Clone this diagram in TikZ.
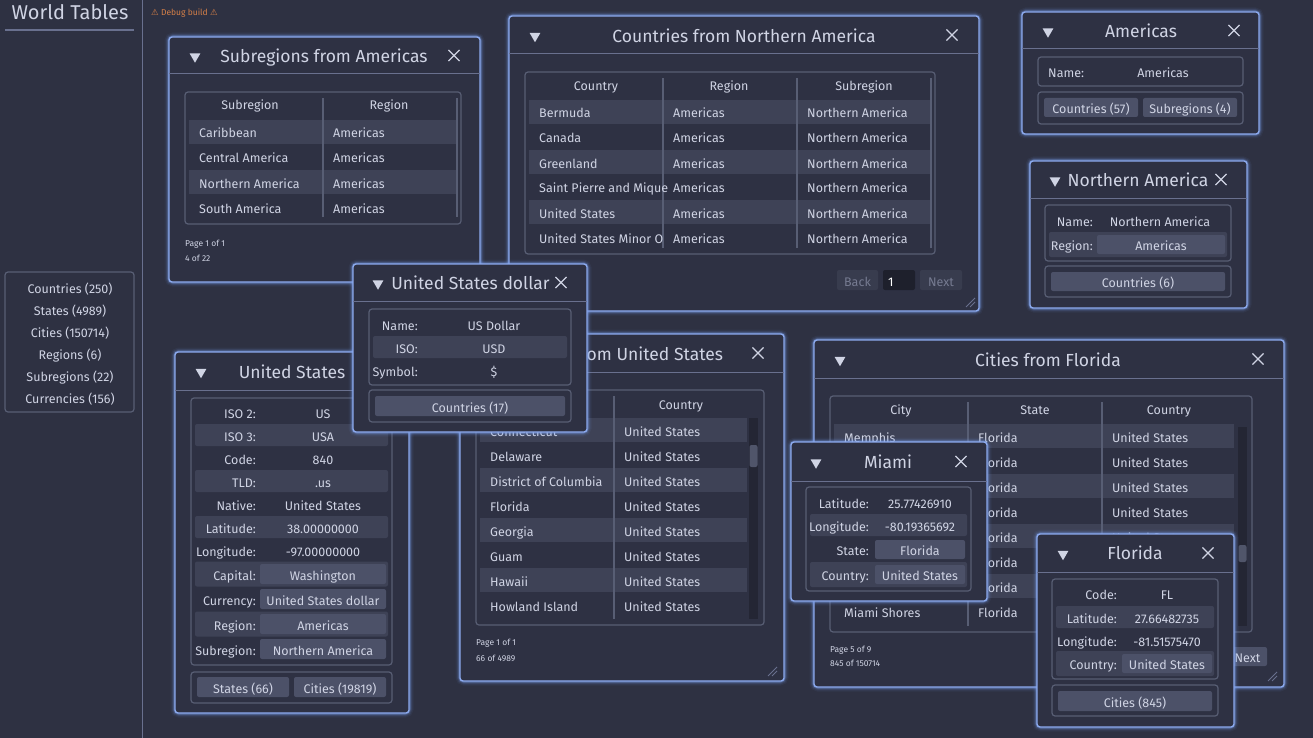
\documentclass[tikz,border=0pt]{standalone}
\usepackage{fontspec}
\setmainfont{Fira Sans}
\newfontfamily\symfont{DejaVu Sans}
\usetikzlibrary{shapes.geometric,shapes.misc}
\definecolor{bg}{RGB}{46,49,66}
\definecolor{winbg}{RGB}{46,49,67}
\definecolor{bordc}{RGB}{140,170,238}
\definecolor{glowc}{RGB}{120,160,240}
\definecolor{sepc}{RGB}{105,112,142}
\definecolor{framec}{RGB}{88,94,116}
\definecolor{rowc}{RGB}{62,66,86}
\definecolor{btnc}{RGB}{76,81,104}
\definecolor{txt}{RGB}{208,212,228}
\definecolor{dimtxt}{RGB}{118,123,145}
\definecolor{disbtn}{RGB}{56,60,78}
\definecolor{inputc}{RGB}{30,32,44}
\definecolor{trackc}{RGB}{36,38,52}
\definecolor{thumbc}{RGB}{80,85,106}
\definecolor{dbgc}{RGB}{214,128,72}
\newcommand\myfs[1]{\fontsize{#1}{#1}\selectfont}
\tikzset{
  t/.style={text=txt, font=\myfs{12.5}, inner sep=0pt, text height=12pt, text depth=0pt},
  tl/.style={t, anchor=west},
  tr/.style={t, anchor=east},
  ttl/.style={text=txt, font=\myfs{17.5}, inner sep=0pt, text height=14.5pt, text depth=0pt},
  small/.style={text=txt, font=\myfs{8.5}, inner sep=0pt, anchor=west, text height=8pt, text depth=0pt},
  frame/.style={draw=framec, line width=1.2pt, rounded corners=3pt},
  colc/.style={draw=framec, line width=1.2pt},
  tri/.style={regular polygon, regular polygon sides=3, shape border rotate=180, fill=txt, inner sep=0pt, minimum size=12.5pt},
  xmark/.style={cross out, draw=txt, line width=1.1pt, minimum size=10pt, inner sep=0pt},
  gripc/.style={draw=sepc, line width=0.8pt},
}
\newcommand\wndw[8]{%
  \foreach \w/\o in {9/0.06,6.5/0.10,4.5/0.18,3/0.3}{\draw[glowc, line width=\w pt, opacity=\o, rounded corners=4pt] (#2,#3) rectangle (#4,#5);}
  \filldraw[fill=winbg, draw=bordc, line width=1.4pt, rounded corners=3pt] (#2,#3) rectangle (#4,#5);
  \draw[sepc, line width=1pt] (#2,#6) -- (#4,#6);
  \node[tri] (#1tri) at (#7,{(#3+#6)/2+1}) {};
  \node[xmark] (#1x) at (#8,{(#3+#6)/2}) {};
}
\newcommand\btn[6]{\fill[btnc, rounded corners=2pt] (#2,#3) rectangle (#4,#5); \node[t] (#1) at ({(#2+#4)/2},{(#3+#5)/2}) {#6};}
\newcommand\grip[3]{\coordinate (#1) at (#2,#3); \draw[gripc] (#1) ++(-9,0) -- ++(9,-9); \draw[gripc] (#1) ++(-5,0) -- ++(5,-5);}
\begin{document}
\begin{tikzpicture}[x=1pt,y=-1pt]
\path[use as bounding box, fill=bg] (0,0) rectangle (1313,738);
% ---------- sidebar
\node[text=txt, font=\myfs{20}, inner sep=0pt] (wt) at (70,12) {World Tables};
\draw[sepc, line width=1.5pt] (5,30) -- (134,30);
\draw[sepc, line width=1pt] (142,0) -- (142,738);
\draw[frame] (5,272) rectangle (134,412);
\foreach \s [count=\i] in {Countries (250),States (4989),Cities (150714),Regions (6),Subregions (22),Currencies (156)}
  {\node[t] (side\i) at (70,{265+22*\i}) {\s};}
\node[text=dbgc, font=\myfs{8.5}, inner sep=0pt, anchor=west] (dbg) at (151,13) {{\symfont ⚠} Debug build {\symfont ⚠}};
% ---------- Subregions from Americas
\wndw{a}{169}{37}{480}{282}{74}{195}{454}
\node[ttl] (at) at (324,55.5) {Subregions from Americas};
\fill[rowc] (189,120) rectangle (456,144);
\fill[rowc] (189,170) rectangle (456,194);
\draw[frame] (185,92) rectangle (461,224);
\draw[colc] (323,98) -- (323,217);
\draw[colc] (457,98) -- (457,217);
\node[t] (ah1) at (250,104) {Subregion};
\node[t] (ah2) at (389,104) {Region};
\foreach \n [count=\i] in {Caribbean,Central America,Northern America,South America}
  {\node[tl] (ar\i) at (199,{107+25*\i}) {\n}; \node[tl] (as\i) at (333,{107+25*\i}) {Americas};}
\node[small] (ap) at (185,242) {Page 1 of 1};
\node[small] (an) at (185,257) {4 of 22};
% ---------- Countries from Northern America
\wndw{b}{509}{16}{979}{311}{54}{535}{952}
\node[ttl] (bt) at (744,35) {Countries from Northern America};
\foreach \i in {1,3,5}{\fill[rowc] (529,{75+25*\i}) rectangle (930,{99+25*\i});}
\draw[frame] (525,72) rectangle (935,254);
\draw[colc] (663,78) -- (663,248);
\draw[colc] (797,78) -- (797,248);
\draw[colc] (931,78) -- (931,248);
\node[t] (bh1) at (596,85) {Country};
\node[t] (bh2) at (729,85) {Region};
\node[t] (bh3) at (864,85) {Subregion};
\foreach \c [count=\i] in {Bermuda,Canada,Greenland,Saint Pierre and Mique,United States,United States Minor O}
  {\node[tl] (bc\i) at (539,{87+25*\i}) {\c};
   \node[tl] (br\i) at (673,{87+25*\i}) {Americas};
   \node[tl] (bs\i) at (807,{87+25*\i}) {Northern America};}
\fill[disbtn, rounded corners=2pt] (837,270) rectangle (878,290);
\node[t, text=dimtxt] (bback) at (857.5,280) {Back};
\fill[inputc, rounded corners=2pt] (883,270) rectangle (915,290);
\node[tl, text=white] (bpage) at (888,280) {1};
\fill[disbtn, rounded corners=2pt] (920,270) rectangle (962,290);
\node[t, text=dimtxt] (bnext) at (941,280) {Next};
\grip{bg1}{975}{307}
% ---------- Americas
\wndw{c}{1022}{12}{1259}{134}{49}{1048}{1234}
\node[ttl] (ct) at (1141,30.5) {Americas};
\draw[frame] (1038,57) rectangle (1243,86);
\node[tl] (cn1) at (1048,72) {Name:};
\node[t] (cn2) at (1163,72) {Americas};
\draw[frame] (1038,92) rectangle (1243,124);
\btn{cb1}{1044}{98}{1138}{117}{Countries (57)}
\btn{cb2}{1143}{98}{1237}{117}{Subregions (4)}
% ---------- Northern America
\wndw{d}{1030}{161}{1247}{308}{198}{1055}{1221}
\node[ttl] (dt) at (1138,179.5) {Northern America};
\fill[rowc, rounded corners=2pt] (1049,232) rectangle (1227,257);
\draw[frame] (1045,205) rectangle (1231,261);
\node[tr] (dn1) at (1093,220) {Name:};
\node[t] (dn2) at (1160,220) {Northern America};
\node[tr] (dr1) at (1093,244) {Region:};
\btn{dr2}{1097}{235}{1225}{254}{Americas}
\draw[frame] (1045,266) rectangle (1231,297);
\btn{db1}{1051}{272}{1225}{291}{Countries (6)}
% ---------- United States (country)
\wndw{e}{175}{352}{409}{713}{390}{201}{383}
\node[ttl] (et) at (292,371) {United States};
\foreach \yy in {435,481,527}{\fill[rowc, rounded corners=2pt] (195,{\yy-11}) rectangle (388,{\yy+11});}
\foreach \yy in {574,624}{\fill[rowc, rounded corners=2pt] (195,{\yy-12.5}) rectangle (388,{\yy+12.5});}
\draw[frame] (191,398) rectangle (392,665);
\foreach \l/\v/\yy [count=\i] in {ISO 2:/US/412,ISO 3:/USA/435,Code:/840/458,TLD:/.us/481,Native:/United States/504,Latitude:/38.00000000/527,Longitude:/-97.00000000/550}
  {\node[tr] (el\i) at (256,\yy) {\l}; \node[t] (ev\i) at (323,\yy) {\v};}
\foreach \l/\v/\yy [count=\i] in {Capital:/Washington/574,Currency:/United States dollar/599,Region:/Americas/624,Subregion:/Northern America/649}
  {\node[tr] (ebl\i) at (256,\yy) {\l}; \btn{ebv\i}{260}{\yy-10}{386}{\yy+10}{\v}}
\draw[frame] (191,672) rectangle (392,703);
\btn{eb1}{197}{677}{289}{697}{States (66)}
\btn{eb2}{294}{677}{386}{697}{Cities (19819)}
% ---------- States from United States
\wndw{f}{460}{334}{784}{681}{372}{486}{758}
\node[ttl] (ft) at (622,353) {States from United States};
\foreach \i in {1,3,5,7}{\fill[rowc] (480,{393+25*\i}) rectangle (747,{417+25*\i});}
\draw[frame] (476,390) rectangle (764,625);
\draw[colc] (614,396) -- (614,619);
\fill[trackc] (749,418) rectangle (758,619);
\fill[thumbc, rounded corners=2pt] (749.5,445) rectangle (757.5,467);
\node[t] (fh1) at (545,403) {State};
\node[t] (fh2) at (681,403) {Country};
\foreach \s [count=\i] in {Connecticut,Delaware,District of Columbia,Florida,Georgia,Guam,Hawaii,Howland Island}
  {\node[tl] (fs\i) at (490,{405+25*\i}) {\s}; \node[tl] (fc\i) at (624,{405+25*\i}) {United States};}
\node[small] (fp) at (476,641) {Page 1 of 1};
\node[small] (fn) at (476,657) {66 of 4989};
\grip{fg1}{777}{676}
% ---------- United States dollar
\wndw{g}{353}{264}{587}{432}{301}{378}{561}
\node[ttl] (gt) at (470.5,282.5) {United States dollar};
\fill[rowc, rounded corners=2pt] (373,336) rectangle (567,358);
\draw[frame] (369,309) rectangle (571,385);
\node[tr] (gl1) at (418,324) {Name:};  \node[t] (gv1) at (494,324) {US Dollar};
\node[tr] (gl2) at (418,347) {ISO:};   \node[t] (gv2) at (494,347) {USD};
\node[tr] (gl3) at (418,370) {Symbol:};\node[t] (gv3) at (494,370) {\$};
\draw[frame] (369,390) rectangle (571,422);
\btn{gb1}{375}{396}{565}{416}{Countries (17)}
% ---------- Cities from Florida
\wndw{h}{814}{340}{1284}{687}{378}{840}{1258}
\node[ttl] (ht) at (1048,359) {Cities from Florida};
\foreach \i in {1,3,5,7}{\fill[rowc] (834,{399+25*\i}) rectangle (1234,{423+25*\i});}
\draw[frame] (830,396) rectangle (1252,632);
\draw[colc] (968,402) -- (968,626);
\draw[colc] (1102,402) -- (1102,626);
\fill[trackc] (1238,427) rectangle (1247,626);
\fill[thumbc, rounded corners=2pt] (1238.5,545) rectangle (1246.5,562);
\node[t] (hh1) at (901,408) {City};
\node[t] (hh2) at (1035,408) {State};
\node[t] (hh3) at (1169,408) {Country};
\node[tl] (hc1) at (844,436) {Memphis};
\node[tl] (hc8) at (844,611) {Miami Shores};
\foreach \i in {1,...,8}{\node[tl] (hs\i) at (978,{411+25*\i}) {Florida};}
\foreach \i in {1,...,5}{\node[tl] (hk\i) at (1112,{411+25*\i}) {United States};}
\node[small] (hp) at (830,648) {Page 5 of 9};
\node[small] (hn) at (830,662) {845 of 150714};
\btn{hnext}{1228}{647}{1267}{666}{Next}
\grip{hg1}{1277}{681}
% ---------- Miami
\wndw{m}{791}{442}{987}{601}{481}{816}{961}
\node[ttl] (mt) at (888,461.5) {Miami};
\fill[rowc, rounded corners=2pt] (810,514) rectangle (967,536);
\fill[rowc, rounded corners=2pt] (810,562) rectangle (967,587);
\draw[frame] (806,487) rectangle (971,591);
\node[tr] (ml1) at (869,502) {Latitude:};  \node[t] (mv1) at (920,502) {25.77426910};
\node[tr] (ml2) at (869,525) {Longitude:}; \node[t] (mv2) at (920,525) {-80.19365692};
\node[tr] (ml3) at (869,549) {State:};     \btn{mv3}{875}{540}{965}{559}{Florida}
\node[tr] (ml4) at (869,574) {Country:};   \btn{mv4}{875}{565}{965}{584}{United States}
% ---------- Florida
\wndw{k}{1037}{534}{1234}{727}{572}{1063}{1208}
\node[ttl] (kt) at (1135,552.5) {Florida};
\fill[rowc, rounded corners=2pt] (1056,606) rectangle (1214,628);
\fill[rowc, rounded corners=2pt] (1056,651) rectangle (1214,676);
\draw[frame] (1052,579) rectangle (1218,679);
\node[tr] (kl1) at (1117,593) {Code:};      \node[t] (kv1) at (1167,593) {FL};
\node[tr] (kl2) at (1117,617) {Latitude:};  \node[t] (kv2) at (1167,617) {27.66482735};
\node[tr] (kl3) at (1117,640) {Longitude:}; \node[t] (kv3) at (1167,640) {-81.51575470};
\node[tr] (kl4) at (1117,663) {Country:};   \btn{kv4}{1122}{654}{1212}{673}{United States}
\draw[frame] (1052,685) rectangle (1218,716);
\btn{kb1}{1058}{691}{1212}{711}{Cities (845)}
\end{tikzpicture}
\end{document}
